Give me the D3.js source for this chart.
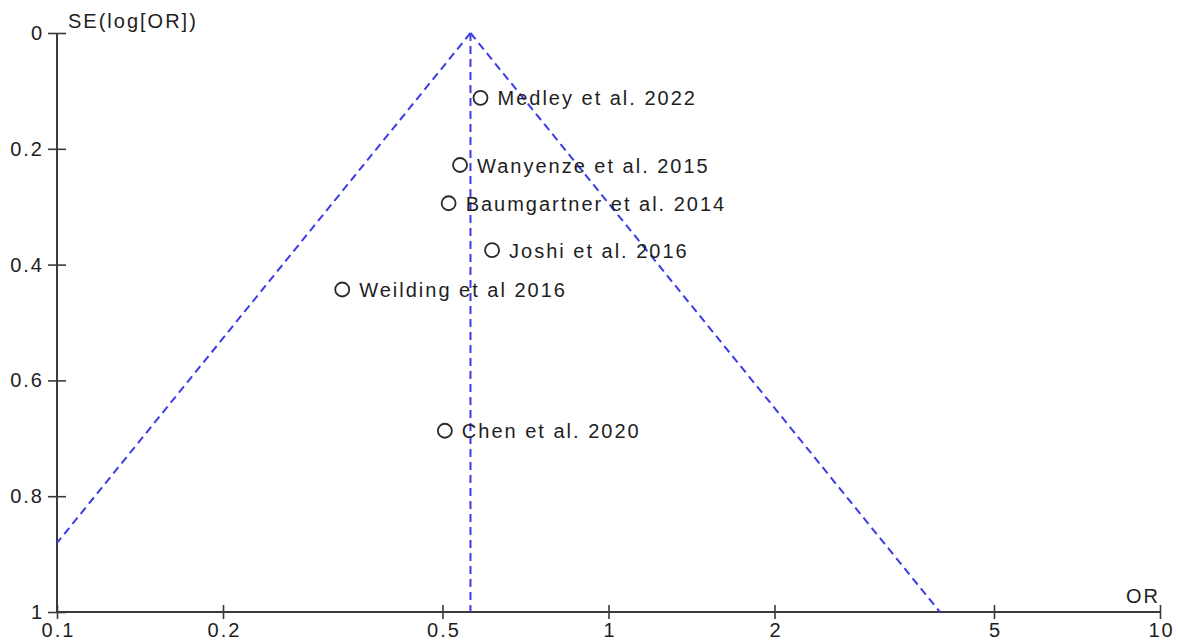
<!DOCTYPE html>
<html>
<head>
<meta charset="utf-8">
<script src="https://cdn.jsdelivr.net/npm/d3@7"></script>
<style>
  html, body { margin: 0; padding: 0; background: #fff; }
  svg { display: block; }
  text { font-family: "Liberation Sans", Arial, sans-serif; font-size: 20px; letter-spacing: 2px; fill: #1e1e1e; }
</style>
</head>
<body>
<svg id="chart" width="1178" height="641"></svg>
<script>
// Studies in the funnel plot: odds ratio and standard error of log(OR)
const studies = ["Medley et al. 2022", "Wanyenze et al. 2015", "Baumgartner et al. 2014",
                 "Joshi et al. 2016", "Weilding et al 2016", "Chen et al. 2020"];
const oddsRatios = [0.586, 0.538, 0.513, 0.615, 0.329, 0.505];
const standardErrors = [0.112, 0.228, 0.294, 0.375, 0.443, 0.687];

// Pooled odds ratio (apex of the funnel)
const pooledOR = 0.562;
const zCrit = 1.96;

// Axis ticks
const xTicks = [0.1, 0.2, 0.5, 1, 2, 5, 10];
const xTickLabels = ["0.1", "0.2", "0.5", "1", "2", "5", "10"];
const yTicks = [0, 0.2, 0.4, 0.6, 0.8, 1];
const yTickLabels = ["0", "0.2", "0.4", "0.6", "0.8", "1"];

const svg = d3.select("#chart");
const plotLeft = 57, plotRight = 1160, plotTop = 33, plotBottom = 612;

const x = d3.scaleLog().domain([0.1, 10]).range([plotLeft, plotRight]);
const y = d3.scaleLinear().domain([0, 1]).range([plotTop, plotBottom]);

const axisColor = "#3a3a3a";
const fontStack = "'Liberation Sans', Arial, sans-serif";

// Y axis
const yAxis = svg.append("g")
  .attr("transform", `translate(${plotLeft},0)`)
  .call(d3.axisLeft(y).tickValues(yTicks).tickSize(9).tickPadding(4)
    .tickFormat((d, i) => yTickLabels[i]));
yAxis.select(".domain").remove();
yAxis.selectAll(".tick line").attr("x1", -9).attr("x2", 9)
  .attr("stroke", axisColor).attr("stroke-width", 1.6);
yAxis.selectAll(".tick text").attr("fill", null).style("font-size", "20px")
  .style("font-family", fontStack);
yAxis.attr("font-size", null).attr("font-family", null);
svg.append("line").attr("x1", plotLeft).attr("x2", plotLeft).attr("y1", plotTop).attr("y2", plotBottom)
  .attr("stroke", axisColor).attr("stroke-width", 2);

// X axis
const xAxis = svg.append("g")
  .attr("transform", `translate(0,${plotBottom})`)
  .call(d3.axisBottom(x).tickValues(xTicks).tickSize(7).tickPadding(4)
    .tickFormat((d, i) => xTickLabels[i]));
xAxis.select(".domain").remove();
xAxis.selectAll(".tick line").attr("y1", -7).attr("y2", 7)
  .attr("stroke", axisColor).attr("stroke-width", 1.6);
xAxis.selectAll(".tick text").attr("fill", null).style("font-size", "20px")
  .style("font-family", fontStack).attr("dx", "1px");
xAxis.attr("font-size", null).attr("font-family", null);
svg.append("line").attr("x1", plotLeft).attr("x2", plotRight).attr("y1", plotBottom).attr("y2", plotBottom)
  .attr("stroke", axisColor).attr("stroke-width", 2);

// Axis titles
svg.append("text").attr("x", 68).attr("y", 28).text("SE(log[OR])");
svg.append("text").attr("x", 1160).attr("y", 603).attr("text-anchor", "end").text("OR");

// Funnel: pseudo 95% confidence limits around the pooled estimate
const funnelColor = "#3b3be8";
const dash = "8,5";
const seMaxLeft = Math.min(1, Math.log(pooledOR / 0.1) / zCrit);
const seMaxRight = Math.min(1, Math.log(10 / pooledOR) / zCrit);
const leftLine = [[pooledOR, 0], [pooledOR * Math.exp(-zCrit * seMaxLeft), seMaxLeft]];
const rightLine = [[pooledOR, 0], [pooledOR * Math.exp(zCrit * seMaxRight), seMaxRight]];
const centerLine = [[pooledOR, 0], [pooledOR, 1]];
const line = d3.line().x(d => x(d[0])).y(d => y(d[1]));

[leftLine, rightLine, centerLine].forEach(seg => {
  svg.append("path").attr("d", line(seg))
    .attr("fill", "none").attr("stroke", funnelColor)
    .attr("stroke-width", 2).attr("stroke-dasharray", dash);
});

// Study points and labels
const data = studies.map((name, i) => ({ name, or: oddsRatios[i], se: standardErrors[i] }));
const pts = svg.append("g").selectAll("g").data(data).join("g");
pts.append("circle")
  .attr("cx", d => x(d.or)).attr("cy", d => y(d.se)).attr("r", 7)
  .attr("fill", "none").attr("stroke", "#2a2a2a").attr("stroke-width", 1.8);
pts.append("text")
  .attr("x", d => x(d.or) + 17).attr("y", d => y(d.se) + 7.5)
  .text(d => d.name);
</script>
</body>
</html>
